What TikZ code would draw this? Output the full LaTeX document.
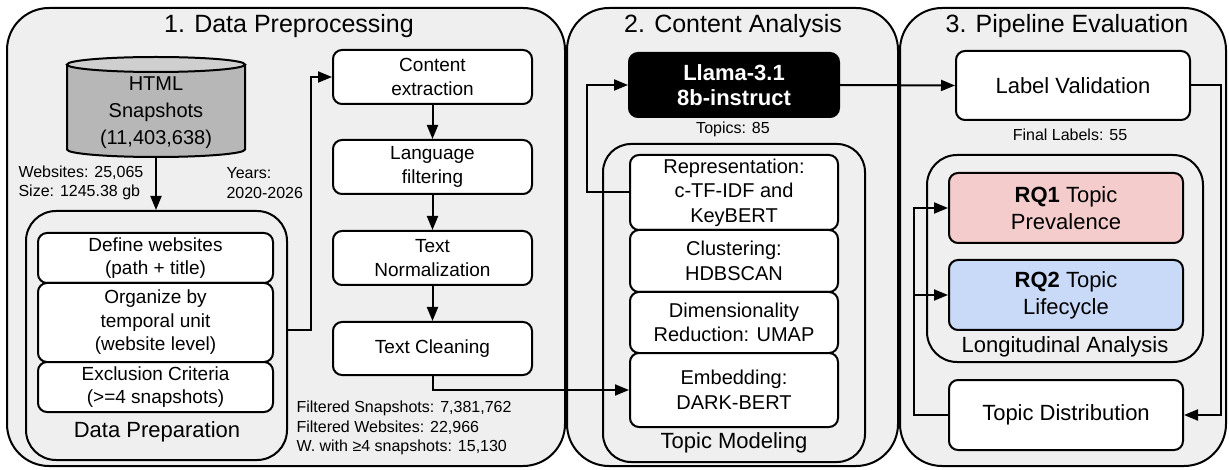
\documentclass[tikz,border=0pt]{standalone}
\usepackage{fontspec}
\setmainfont{Liberation Sans}
\usepackage{xcolor}
\usepackage{tikz}
\usetikzlibrary{
  positioning,
  calc,
  arrows.meta
}
\definecolor{panelgray}{HTML}{EFEFEF}
\definecolor{dbbody}{HTML}{B7B7B7}
\definecolor{dbtop}{HTML}{CFCFCF}
\definecolor{rqred}{HTML}{F4CCCC}
\definecolor{rqblue}{HTML}{C9DAF8}

\begin{document}
\begin{tikzpicture}[x=1pt,y=-1pt,>={Triangle[length=14pt,width=11pt]},
  panel/.style={draw,line width=2pt,fill=panelgray,rounded corners=42pt},
  group/.style={draw,line width=2pt,rounded corners=30pt},
  stepbox/.style={draw,fill=white,line width=2pt,rounded corners=9pt,align=center,inner sep=0pt},
  ttl/.style={font=\fontsize{25}{30}\selectfont,anchor=base},
  txtA/.style={font=\fontsize{19}{23.5}\selectfont},
  txtB/.style={font=\fontsize{20}{24.5}\selectfont},
  txtC/.style={font=\fontsize{22}{27}\selectfont},
  note/.style={font=\fontsize{16}{19.5}\selectfont,align=left},
  conn/.style={->,line width=2pt}]
  \useasboundingbox (0,0) rectangle (1229,470);
  % パネル
  \node[panel,minimum width=558pt,minimum height=458pt] (p1) at (286,237) {};
  \node[panel,minimum width=331pt,minimum height=458pt] (p2) at (732.5,237) {};
  \node[panel,minimum width=326pt,minimum height=458pt] (p3) at (1063,237) {};
  \node[ttl] (t1) at (289,33) {1. Data Preprocessing};
  \node[ttl] (t2) at (733,33) {2. Content Analysis};
  \node[ttl] (t3) at (1067,33) {3. Pipeline Evaluation};

  % 1. Data Preprocessing
  \draw[line width=2pt,fill=dbbody] (67,64.5) -- (67,149.5) arc[start angle=180,end angle=360,x radius=89pt,y radius=7.5pt] -- (245,64.5);
  \draw[line width=2pt,fill=dbtop] (156,64.5) ellipse [x radius=89pt,y radius=7.5pt];
  \node[align=center,font=\fontsize{20}{27}\selectfont,minimum width=178pt,minimum height=88pt] (html) at (156,113) {HTML\\Snapshots\\(11,403,638)};
  \node[note,anchor=west] (sitesnote) at (15,183) {Websites: 25,065\\Size: 1245.38 gb};
  \node[note,anchor=west] (yearsnote) at (223,183) {Years:\\2020-2026};

  \node[group,minimum width=261pt,minimum height=249pt] (dprep) at (156.5,335.5) {};
  \node[txtC] (dprepl) at (157,432) {Data Preparation};
  \node[stepbox,txtA,minimum width=235pt,minimum height=50pt] (define) at (155.5,258) {Define websites\\(path + title)};
  \node[stepbox,txtA,minimum width=235pt,minimum height=79pt] (organize) at (155.5,322.5) {Organize by\\temporal unit\\(website level)};
  \node[stepbox,txtA,minimum width=235pt,minimum height=50pt] (exclude) at (155.5,387) {Exclusion Criteria\\(>=4 snapshots)};

  \node[stepbox,txtA,minimum width=199pt,minimum height=54pt] (extract) at (432.5,77) {Content\\extraction};
  \node[stepbox,txtA,minimum width=199pt,minimum height=54pt] (langfilter) at (432.5,167) {Language\\filtering};
  \node[stepbox,txtA,minimum width=199pt,minimum height=54pt] (normalize) at (432.5,258) {Text\\Normalization};
  \node[stepbox,txtA,minimum width=199pt,minimum height=53pt] (cleaning) at (432.5,348.5) {Text Cleaning};
  \node[note,anchor=west] (filternote) at (293,428) {Filtered Snapshots: 7,381,762\\Filtered Websites: 22,966\\W. with ≥4 snapshots: 15,130};

  % 2. Content Analysis
  \node[stepbox,fill=black,text=white,font=\bfseries\fontsize{22}{25}\selectfont,minimum width=210pt,minimum height=64pt] (llama) at (734,85) {Llama-3.1\\8b-instruct};
  \node[note] (topicsnote) at (733,129) {Topics: 85};
  \node[group,rounded corners=28pt,minimum width=262pt,minimum height=318pt] (tmodel) at (734,303) {};
  \node[txtC] (tmodell) at (734,443) {Topic Modeling};
  \node[stepbox,txtB,minimum width=208pt,minimum height=75pt] (repr) at (734,192.5) {Representation:\\c-TF-IDF and\\KeyBERT};
  \node[stepbox,txtB,minimum width=208pt,minimum height=62pt] (cluster) at (734,261) {Clustering:\\HDBSCAN};
  \node[stepbox,txtB,minimum width=208pt,minimum height=61pt] (dimred) at (734,322.5) {Dimensionality\\Reduction: UMAP};
  \node[stepbox,txtB,minimum width=208pt,minimum height=74pt] (embed) at (734,390) {Embedding:\\DARK-BERT};

  % 3. Pipeline Evaluation
  \node[stepbox,txtC,minimum width=234pt,minimum height=69pt] (lval) at (1073,85.5) {Label Validation};
  \node[note] (finalnote) at (1070,135) {Final Labels: 55};
  \node[group,minimum width=276pt,minimum height=207pt] (longit) at (1065,258.5) {};
  \node[txtC] (longitl) at (1065,347) {Longitudinal Analysis};
  \node[stepbox,txtC,fill=rqred,minimum width=234pt,minimum height=70pt] (rqone) at (1066,208) {\textbf{RQ1} Topic\\Prevalence};
  \node[stepbox,txtC,fill=rqblue,minimum width=234pt,minimum height=70pt] (rqtwo) at (1066,295) {\textbf{RQ2} Topic\\Lifecycle};
  \node[stepbox,txtC,minimum width=234pt,minimum height=70pt] (tdist) at (1066,415) {Topic Distribution};

  % 矢印
  \draw[conn] (html.south) -- (html.south |- dprep.north);
  \draw[conn] ([yshift=5.5pt]dprep.east) -- ++(23,0) |- (extract.west);
  \draw[conn] (extract.south) -- (langfilter.north);
  \draw[conn] (langfilter.south) -- (normalize.north);
  \draw[conn] (normalize.south) -- (cleaning.north);
  \draw[conn] (cleaning.south) |- (embed.west);
  \draw[conn] (repr.west) -- ++(-42,0) |- (llama.west);
  \draw[conn] (llama.east) -- (lval.west);
  \draw[conn] (lval.east) -- ++(30,0) |- (tdist.east);
  \coordinate (split) at ($(tdist.west)+(-34,0)$);
  \draw[conn] (tdist.west) -- (split) |- (rqone.west);
  \draw[conn] (split |- rqtwo.west) -- (rqtwo.west);
\end{tikzpicture}
\end{document}
